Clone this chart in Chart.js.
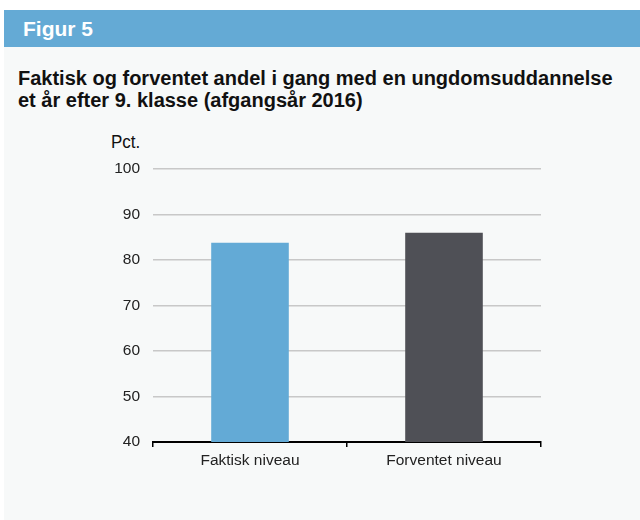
<!DOCTYPE html>
<html>
<head>
<meta charset="utf-8">
<script src="https://cdn.jsdelivr.net/npm/chart.js@4/dist/chart.umd.min.js"></script>
<style>
  html, body { margin: 0; padding: 0; background: #ffffff; width: 640px; height: 520px; overflow: hidden; }
  body { position: relative; font-family: "Liberation Sans", Arial, Helvetica, sans-serif; }
  #band { position: absolute; left: 4px; top: 10px; width: 636px; height: 37px; background: #64aad5; }
  #band span { position: absolute; left: 19px; top: 6.5px; color: #ffffff; font-weight: bold; font-size: 21px; line-height: 24px; white-space: nowrap; }
  #panel { position: absolute; left: 4px; top: 47px; width: 636px; height: 473px; background: #f7f9f9; }
  #title { position: absolute; left: 18px; top: 67px; font-weight: bold; font-size: 20px; line-height: 22px; color: #111111; white-space: nowrap; }
  #unit { position: absolute; left: 111px; top: 133px; font-size: 17px; line-height: 18px; color: #111111; transform: scaleY(1.1); transform-origin: 0 0; }
  #wrap { position: absolute; left: 0; top: 130px; width: 640px; height: 390px; }
</style>
</head>
<body>
<div id="band"><span>Figur 5</span></div>
<div id="panel"></div>
<div id="title">Faktisk og forventet andel i gang med en ungdomsuddannelse<br>et år efter 9. klasse (afgangsår 2016)</div>
<div id="unit">Pct.</div>
<div id="wrap"><canvas id="c" width="640" height="390"></canvas></div>
<script>
const categories = ["Faktisk niveau", "Forventet niveau"];
const values = [83.8, 86.0];
const barColors = ["#63aad6", "#4f5056"];
const yTicks = [40, 50, 60, 70, 80, 90, 100];

new Chart(document.getElementById("c"), {
  type: "bar",
  data: {
    labels: categories,
    datasets: [{
      data: values,
      backgroundColor: barColors,
      borderWidth: 0,
      barPercentage: 0.4,
      categoryPercentage: 1.0
    }]
  },
  options: {
    responsive: false,
    animation: false,
    devicePixelRatio: 1,
    layout: { padding: { left: 103, top: 39, right: 99, bottom: 0 } },
    plugins: { legend: { display: false }, tooltip: { enabled: false }, title: { display: false } },
    scales: {
      x: {
        afterFit: (s) => { s.height = 78; },
        grid: { drawOnChartArea: false, drawTicks: true, tickLength: 5, color: "#000000", lineWidth: 1.5, offset: true },
        border: { display: true, color: "#000000", width: 2 },
        ticks: { color: "#222222", font: { family: "Liberation Sans", size: 15.5 }, padding: 4, maxRotation: 0 }
      },
      y: {
        min: yTicks[0],
        max: yTicks[yTicks.length - 1],
        afterFit: (s) => { s.width = 50; },
        afterBuildTicks: (s) => { s.ticks = yTicks.map(v => ({ value: v })); },
        grid: { drawTicks: false, color: "#c8c8c8", lineWidth: 1.5 },
        border: { display: false },
        ticks: { color: "#222222", font: { family: "Liberation Sans", size: 15.5 }, padding: 13 }
      }
    }
  }
});
</script>
</body>
</html>
